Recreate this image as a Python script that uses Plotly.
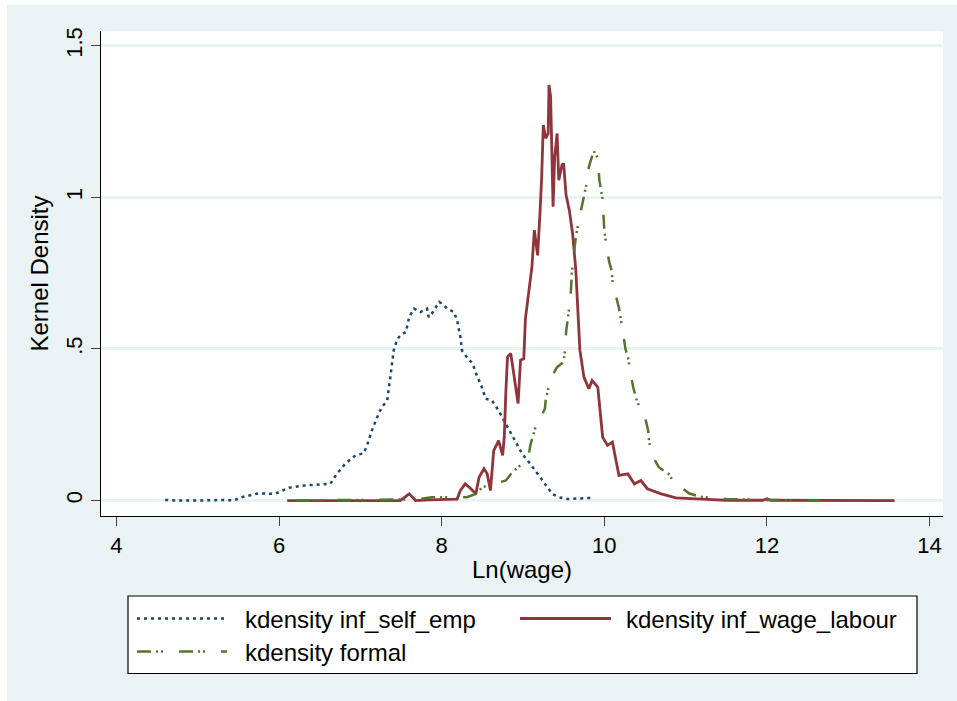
import plotly.graph_objects as go

# ---------------- data ----------------
self_emp_x = [4.60, 4.72, 5.01, 5.34, 5.44, 5.54, 5.75, 5.95, 6.12, 6.32, 6.63, 6.71, 6.82, 6.94,
              7.04, 7.08, 7.14, 7.23, 7.27, 7.33, 7.37, 7.41, 7.45, 7.49, 7.56, 7.60, 7.66, 7.74,
              7.82, 7.84, 7.88, 7.97, 8.00, 8.07, 8.15, 8.19, 8.23, 8.25, 8.31, 8.38, 8.44, 8.48,
              8.54, 8.62, 8.70, 8.79, 8.91, 8.99, 9.09, 9.18, 9.28, 9.36, 9.44, 9.55, 9.85]
self_emp_y = [0.002, 0.0, 0.0, 0.002, 0.0, 0.011, 0.024, 0.022, 0.042, 0.050, 0.055, 0.088, 0.123, 0.149,
              0.156, 0.180, 0.230, 0.290, 0.310, 0.330, 0.410, 0.495, 0.530, 0.545, 0.556, 0.605, 0.633, 0.622,
              0.633, 0.605, 0.617, 0.655, 0.650, 0.633, 0.622, 0.595, 0.540, 0.495, 0.473, 0.452, 0.407, 0.385,
              0.336, 0.330, 0.297, 0.253, 0.198, 0.154, 0.121, 0.088, 0.050, 0.022, 0.011, 0.005, 0.009]

wage_x = [6.10, 7.27, 7.37, 7.49, 7.60, 7.68, 7.84, 8.05, 8.19, 8.23, 8.29, 8.36, 8.42, 8.46,
          8.52, 8.56, 8.60, 8.64, 8.70, 8.75, 8.77, 8.79, 8.81, 8.85, 8.91, 8.94, 8.97, 9.01,
          9.03, 9.07, 9.11, 9.14, 9.18, 9.21, 9.23, 9.25, 9.28, 9.31, 9.32, 9.34, 9.36, 9.37,
          9.39, 9.42, 9.44, 9.48, 9.50, 9.53, 9.57, 9.61, 9.65, 9.68, 9.70, 9.75, 9.81, 9.85,
          9.92, 9.98, 10.04, 10.10, 10.18, 10.29, 10.37, 10.45, 10.53, 10.70, 10.88, 11.33, 11.50,
          11.95, 12.00, 12.05, 13.57]
wage_y = [0.0, 0.002, 0.001, 0.0, 0.022, 0.0, 0.002, 0.005, 0.005, 0.033, 0.055, 0.039, 0.022, 0.077,
          0.105, 0.088, 0.033, 0.165, 0.198, 0.149, 0.209, 0.363, 0.474, 0.485, 0.363, 0.320, 0.463, 0.468,
          0.600, 0.694, 0.771, 0.892, 0.809, 0.952, 1.068, 1.239, 1.195, 1.211, 1.371, 1.332, 1.112, 0.969,
          1.134, 1.211, 1.057, 1.107, 1.112, 1.008, 0.958, 0.881, 0.760, 0.600, 0.496, 0.407, 0.369, 0.396,
          0.374, 0.209, 0.182, 0.193, 0.083, 0.088, 0.055, 0.066, 0.039, 0.022, 0.009, 0.003, 0.001,
          0.001, 0.006, 0.001, 0.0]

formal_x = [6.20, 7.47, 7.70, 7.88, 7.97, 8.31, 8.42, 8.46, 8.50, 8.79, 8.87, 8.99, 9.07, 9.09,
            9.16, 9.22, 9.27, 9.28, 9.34, 9.42, 9.50, 9.52, 9.53, 9.56, 9.59, 9.60, 9.62, 9.65,
            9.68, 9.73, 9.76, 9.80, 9.81, 9.87, 9.90, 9.92, 9.94, 9.96, 9.98, 9.99, 10.00, 10.02,
            10.06, 10.09, 10.10, 10.12, 10.18, 10.22, 10.26, 10.30, 10.31, 10.36, 10.40, 10.51, 10.54,
            10.55, 10.58, 10.67, 10.76, 10.80, 10.84, 10.92, 11.04, 11.17, 11.33, 11.50, 12.00, 12.65]
formal_y = [0.0, 0.002, 0.004, 0.011, 0.011, 0.011, 0.022, 0.033, 0.044, 0.066, 0.094, 0.121, 0.149, 0.182,
            0.248, 0.275, 0.303, 0.332, 0.402, 0.440, 0.457, 0.506, 0.556, 0.617, 0.694, 0.749, 0.804, 0.870,
            0.914, 0.980, 1.008, 1.068, 1.101, 1.153, 1.140, 1.129, 1.057, 1.024, 0.991, 0.942, 0.892, 0.853,
            0.787, 0.760, 0.727, 0.699, 0.636, 0.572, 0.501, 0.463, 0.435, 0.369, 0.330, 0.264, 0.231,
            0.198, 0.154, 0.110, 0.094, 0.086, 0.066, 0.050, 0.024, 0.013, 0.009, 0.005, 0.002, 0.0]

series_names = ["kdensity inf_self_emp", "kdensity inf_wage_labour", "kdensity formal"]
x_ticks = [4, 6, 8, 10, 12, 14]
y_ticks = [0, 0.5, 1, 1.5]
y_tick_text = ["0", ".5", "1", "1.5"]
x_title = "Ln(wage)"
y_title = "Kernel Density"

# ---------------- styling ----------------
FONT = "Arial, Liberation Sans, sans-serif"
BG = "#EAF2F3"
C_BLUE = "#1A476F"
C_RED = "#90353B"
C_GREEN = "#55752F"
DASH_BLUE = "3px,4px"
DASH_GREEN = "14px,5px,2px,3px,2px,16px"

W_FIG, H_FIG = 957, 701
L, R, T, B = 101, 943, 31, 516


def px_x(px):
    return (px - L) / (R - L)


def px_y(py):
    return (B - py) / (B - T)


fig = go.Figure()
fig.add_trace(go.Scatter(x=self_emp_x, y=self_emp_y, mode="lines", name=series_names[0],
                         line=dict(color=C_BLUE, width=2.5, dash=DASH_BLUE), showlegend=False))
fig.add_trace(go.Scatter(x=wage_x, y=wage_y, mode="lines", name=series_names[1],
                         line=dict(color=C_RED, width=2.8), showlegend=False))
fig.add_trace(go.Scatter(x=formal_x, y=formal_y, mode="lines", name=series_names[2],
                         line=dict(color=C_GREEN, width=2.5, dash=DASH_GREEN), showlegend=False))

shapes = [
    # outer graph region background
    dict(type="rect", xref="paper", yref="paper", layer="below",
         x0=px_x(7), x1=px_x(W_FIG + 5), y0=px_y(H_FIG + 5), y1=px_y(5),
         fillcolor=BG, line=dict(width=0)),
    # white plot region
    dict(type="rect", xref="paper", yref="paper", layer="below",
         x0=0, x1=1, y0=0, y1=1, fillcolor="white", line=dict(width=0)),
    # legend box
    dict(type="rect", xref="paper", yref="paper", layer="above",
         x0=px_x(128), x1=px_x(917), y0=px_y(673.5), y1=px_y(596),
         fillcolor="white", line=dict(color="black", width=1.2)),
    # legend samples
    dict(type="line", xref="paper", yref="paper", x0=px_x(137), x1=px_x(227),
         y0=px_y(618.5), y1=px_y(618.5), line=dict(color=C_BLUE, width=2.5, dash=DASH_BLUE)),
    dict(type="line", xref="paper", yref="paper", x0=px_x(520), x1=px_x(611),
         y0=px_y(618.5), y1=px_y(618.5), line=dict(color=C_RED, width=2.8)),
    dict(type="line", xref="paper", yref="paper", x0=px_x(137), x1=px_x(227),
         y0=px_y(651.5), y1=px_y(651.5), line=dict(color=C_GREEN, width=2.5, dash=DASH_GREEN)),
]

annotations = [
    dict(text=series_names[0], x=px_x(243), y=px_y(619), xref="paper", yref="paper",
         xanchor="left", yanchor="middle", showarrow=False, font=dict(family=FONT, size=24, color="black")),
    dict(text=series_names[1], x=px_x(624), y=px_y(619), xref="paper", yref="paper",
         xanchor="left", yanchor="middle", showarrow=False, font=dict(family=FONT, size=24, color="black")),
    dict(text=series_names[2], x=px_x(243), y=px_y(652), xref="paper", yref="paper",
         xanchor="left", yanchor="middle", showarrow=False, font=dict(family=FONT, size=24, color="black")),
]

fig.update_layout(
    width=W_FIG, height=H_FIG,
    margin=dict(l=L, r=W_FIG - R, t=T, b=H_FIG - B),
    paper_bgcolor="white", plot_bgcolor="white",
    font=dict(family=FONT, color="black"),
    shapes=shapes, annotations=annotations, showlegend=False,
)
fig.update_xaxes(
    range=[3.81, 14.166], tickvals=x_ticks, ticks="outside", ticklen=9, tickwidth=1.3,
    tickcolor="#444", showline=True, linecolor="black", linewidth=1.2, showgrid=False,
    zeroline=False, tickfont=dict(size=22, family=FONT),
    title=dict(text=x_title, font=dict(size=24, family=FONT), standoff=4),
)
fig.update_yaxes(
    range=[-0.051, 1.549], tickvals=y_ticks, ticktext=y_tick_text, tickangle=-90,
    ticks="outside", ticklen=9, tickwidth=1.3, tickcolor="#444", showline=True,
    linecolor="black", linewidth=1.2, showgrid=True, gridcolor=BG, gridwidth=2.5,
    zeroline=False, tickfont=dict(size=22, family=FONT),
    title=dict(text=y_title, font=dict(size=24, family=FONT), standoff=6),
)

fig.write_html("out.html")
